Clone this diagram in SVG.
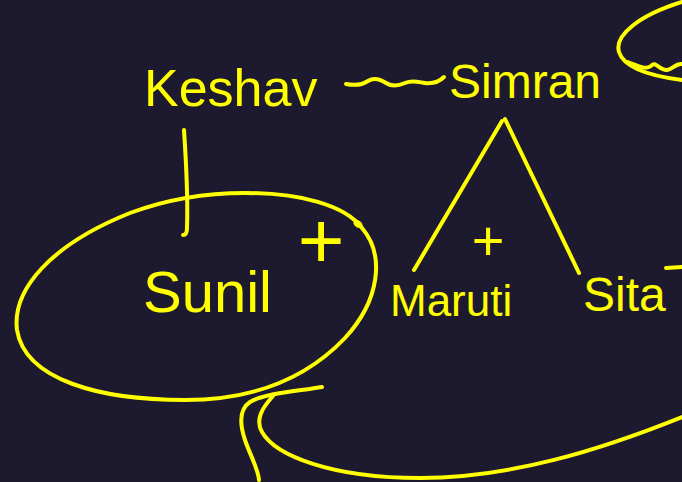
<svg xmlns="http://www.w3.org/2000/svg" width="682" height="482" viewBox="0 0 682 482">
<style>
.ink{fill:none;stroke:#ffff00;stroke-width:4;stroke-linecap:round;stroke-linejoin:round}
.t{fill:#ffff00;font-family:"Liberation Sans",Arial,sans-serif}
</style>
<rect width="682" height="482" fill="#1d1a2f"/>
<g id="connectors">
<path class="ink" d="M 346,84 C 356,86 362,85 368,81 C 374,77 380,79 386,83 C 392,87 398,86 405,83 C 412,80 418,82 425,83 C 435,84 440,81 444,77"/>
<path class="ink" d="M 184,130 C 186,160 188,200 187,228 C 187,233 185,235 183,235"/>
<path class="ink" d="M 414,270 L 502,121"/>
<path class="ink" d="M 505,119 L 579,273"/>
</g>
<g id="keshav"><text class="t" x="144" y="106" font-size="52">Keshav</text></g>
<g id="simran"><text class="t" x="449" y="98" font-size="48">Simran</text></g>
<g id="sunil">
<path class="ink" d="M 245,193 C 300,193 345,205 362,228 C 385,255 380,300 345,338 C 305,380 250,400 185,400 C 100,400 25,380 17,330 C 12,290 50,245 130,213 C 165,200 205,193 245,193 Z"/>
<ellipse cx="358" cy="224" rx="5" ry="3.5" fill="#ffff00" transform="rotate(35 358 224)"/>
<text class="t" x="143" y="312" font-size="58">Sunil</text>
<text class="t" x="321" y="268" font-size="80" text-anchor="middle">+</text>
</g>
<g id="maruti">
<text class="t" x="390" y="316" font-size="44">Maruti</text>
<text class="t" x="488" y="260" font-size="56" text-anchor="middle">+</text>
</g>
<g id="sita">
<text class="t" x="583" y="311" font-size="48">Sita</text>
<path class="ink" d="M 666,268 L 682,267"/>
</g>
<g id="other-marks">
<path class="ink" d="M 682,2 C 640,15 614,35 619,52 C 624,68 650,76 682,80"/>
<path class="ink" d="M 627,62 C 638,66 646,70 651,66 C 655,60 660,71 667,70 C 673,69 676,63 682,64"/>
<path class="ink" d="M 322,387 C 300,391 265,393 250,402 C 238,410 240,425 245,440 C 250,455 258,468 259,480"/>
<path class="ink" d="M 273,396 C 262,408 255,420 262,432 C 275,455 330,478 420,478 C 510,478 600,450 682,417"/>
</g>
</svg>
